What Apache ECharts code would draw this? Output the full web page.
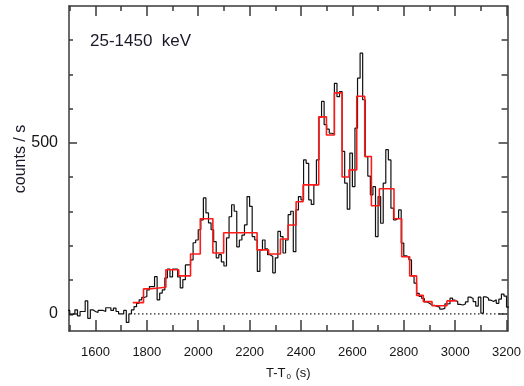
<!DOCTYPE html>
<html>
<head>
<meta charset="utf-8">
<script src="https://cdn.jsdelivr.net/npm/echarts@6/dist/echarts.min.js"></script>
<style>
  html, body { margin: 0; padding: 0; background: #fff; }
  #chart { width: 524px; height: 386px; }
</style>
</head>
<body>
<div id="chart"></div>
<script>
// Light curve, 25-1450 keV: fine 10 s bins and Bayesian-block rates (counts / s)
const binStart = 1490;
const binWidth = 10;
const binCounts = [
  10, -3, 2, 12, -6, 7, 7, 38, -13, 12,
  7, 4, 10, 10, 7, 18, 18, 10, 17, 7,
  0, 0, 10, -25, 0, 12, 21, 31, 41, 48,
  51, 70, 80, 80, 109, 41, 61, 70, 105, 131,
  108, 131, 131, 108, 76, 100, 143, 143, 158, 208,
  216, 246, 275, 339, 295, 266, 246, 211, 164, 173,
  152, 140, 222, 284, 319, 300, 196, 216, 230, 260,
  343, 314, 226, 216, 124, 187, 216, 190, 173, 168,
  120, 164, 241, 226, 178, 216, 290, 300, 182, 304,
  343, 333, 450, 440, 333, 320, 377, 450, 575, 621,
  553, 540, 528, 525, 674, 635, 650, 475, 382, 306,
  470, 372, 543, 689, 762, 626, 460, 403, 348, 372,
  226, 343, 265, 382, 480, 450, 309, 275, 280, 304,
  207, 170, 166, 158, 111, 90, 60, 51, 45, 35,
  31, 26, 25, 22, 20, 14, 16, 29, 30, 46,
  40, 36, 28, 26, 29, 35, 49, 45, 36, 23,
  49, 2, 50, 46, 40, 36, 41, 31, 43, 58, 52, 20
];

// Bayesian blocks: edges (s) and rate in each block
const blockEdges = [
  1745, 1787, 1809, 1874, 1924, 1970, 2008, 2057, 2099, 2229,
  2274, 2320, 2350, 2381, 2408, 2469, 2499, 2530, 2560, 2587,
  2617, 2648, 2674, 2705, 2762, 2792, 2823, 2850, 2876, 2910,
  2968, 3006
];
const blockRates = [
  33, 73, 78, 129, 111, 175, 278, 178, 237, 187,
  175, 219, 260, 328, 377, 576, 523, 646, 400, 421,
  636, 460, 316, 366, 278, 167, 111, 54, 36, 24, 38
];

// zero level, drawn dotted
const zeroSpan = [1750, 3200];

// axis ticks and labels
const xMajorTicks = [1600, 1800, 2000, 2200, 2400, 2600, 2800, 3000, 3200];
const xMinorTicks = [1500, 1700, 1900, 2100, 2300, 2500, 2700, 2900, 3100];
const yMajorTicks = [0, 500];
const yMinorTicks = [100, 200, 300, 400, 600, 700, 800];
const xRange = [1497, 3204];
const yRange = [-50, 900];

const bandLabel = '25-1450  keV';
const yTitle = 'counts / s';

function binSteps(start, width, vals) {
  const pts = vals.map((v, i) => [start + i * width, v]);
  pts.push([start + vals.length * width, vals[vals.length - 1]]);
  return pts;
}
function blockSteps(edges, vals) {
  const pts = vals.map((v, i) => [edges[i], v]);
  pts.push([edges[edges.length - 1], vals[vals.length - 1]]);
  return pts;
}

const frameColor = '#3a3a3a';
const font = '"Liberation Sans", Arial, sans-serif';
const plain = v => String(v);

function xAxisDef(position, ticks, len, withLabels) {
  return {
    type: 'value', position: position, min: xRange[0], max: xRange[1],
    axisLine: { show: withLabels !== null, onZero: false, lineStyle: { color: frameColor, width: 1.5 } },
    axisTick: { inside: true, length: len, customValues: ticks, lineStyle: { color: frameColor, width: 1.5 } },
    axisLabel: withLabels ? {
      customValues: xMajorTicks, formatter: plain, margin: 15, fontSize: 13, color: '#151515', fontFamily: font
    } : { show: false },
    splitLine: { show: false }
  };
}
function yAxisDef(position, ticks, len, withLabels) {
  return {
    type: 'value', position: position, min: yRange[0], max: yRange[1],
    axisLine: { show: withLabels !== null, onZero: false, lineStyle: { color: frameColor, width: 1.5 } },
    axisTick: { inside: true, length: len, customValues: ticks, lineStyle: { color: frameColor, width: 1.5 } },
    axisLabel: withLabels ? {
      customValues: yMajorTicks, formatter: plain, margin: 11, fontSize: 16, color: '#151515', fontFamily: font
    } : { show: false },
    splitLine: { show: false }
  };
}

const chart = echarts.init(document.getElementById('chart'), null, { renderer: 'canvas' });

const xMain = xAxisDef('bottom', xMajorTicks, 11, true);
xMain.name = '{a|T-T}{b|0}{a| (s)}';
xMain.nameLocation = 'middle';
xMain.nameGap = 35;
xMain.nameTextStyle = {
  rich: {
    a: { fontSize: 13, color: '#151515', fontFamily: font },
    b: { fontSize: 8, color: '#151515', fontFamily: font, padding: [7, 1, 0, 1] }
  }
};

chart.setOption({
  animation: false,
  backgroundColor: '#ffffff',
  grid: { left: 69, right: 7, top: 6, bottom: 55, containLabel: false },
  xAxis: [
    xMain,
    xAxisDef('bottom', xMinorTicks, 6, null),
    xAxisDef('top', xMajorTicks, 10, false),
    xAxisDef('top', xMinorTicks, 5, null)
  ],
  yAxis: [
    yAxisDef('left', yMajorTicks, 8, true),
    yAxisDef('left', yMinorTicks, 4, null),
    yAxisDef('right', yMajorTicks, 9, false),
    yAxisDef('right', yMinorTicks, 6, null)
  ],
  series: [
    {
      type: 'line', name: 'zero', xAxisIndex: 0, yAxisIndex: 0,
      data: zeroSpan.map(t => [t, 0]), symbol: 'none', silent: true,
      lineStyle: { color: '#222', width: 1.2, type: [1.5, 2.5] }
    },
    {
      type: 'line', name: 'binned', xAxisIndex: 0, yAxisIndex: 0,
      data: binSteps(binStart, binWidth, binCounts), step: 'end', symbol: 'none',
      clip: true, lineStyle: { color: '#111', width: 1.2 }
    },
    {
      type: 'line', name: 'blocks', xAxisIndex: 0, yAxisIndex: 0,
      data: blockSteps(blockEdges, blockRates), step: 'end', symbol: 'none',
      clip: true, lineStyle: { color: '#ff1a1a', width: 1.6 }
    }
  ],
  graphic: [
    {
      type: 'text', left: 90, top: 33,
      style: { text: bandLabel, fontSize: 17, fill: '#1a1a2a', fontFamily: font }
    },
    {
      type: 'text', x: 21, y: 159, rotation: Math.PI / 2,
      style: { text: yTitle, fontSize: 16, fill: '#1a1a2a', fontFamily: font, align: 'center', verticalAlign: 'middle' }
    }
  ]
});
</script>
</body>
</html>
